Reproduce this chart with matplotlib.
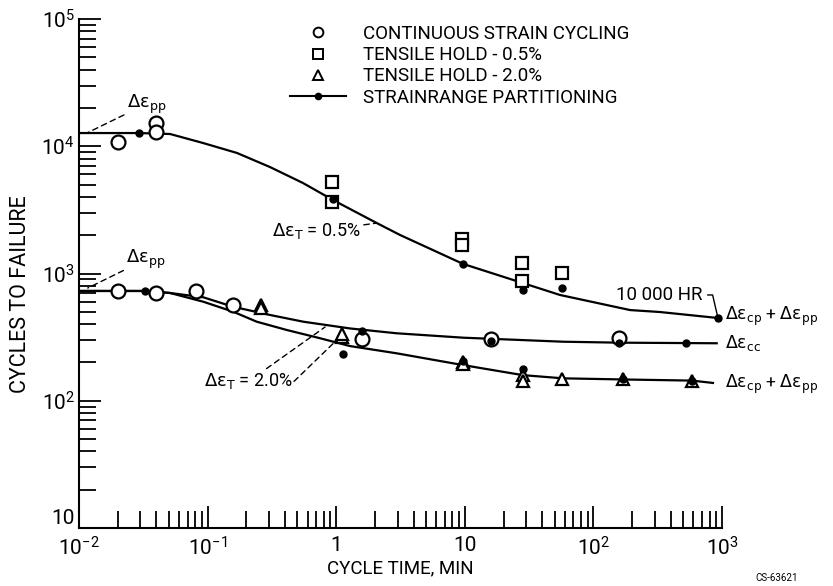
import numpy as np
import matplotlib.pyplot as plt
from matplotlib.lines import Line2D
from matplotlib.ticker import FixedLocator, NullFormatter

plt.rcParams['font.family'] = ['Roboto', 'DejaVu Sans']
plt.rcParams['mathtext.fontset'] = 'custom'
plt.rcParams['mathtext.rm'] = 'Roboto'
plt.rcParams['mathtext.it'] = 'Roboto'
plt.rcParams['mathtext.sf'] = 'Roboto'
plt.rcParams['mathtext.fallback'] = 'stixsans'

# strainrange partitioning curves (cycle time, min / cycles to failure)
top_t = [0.01, 0.0293, 0.0511, 0.092, 0.169, 0.305, 0.552, 0.944, 2.07, 3.13, 9.68, 21.3, 55, 193, 330, 930]
top_n = [12700, 12700, 12480, 10610, 8860, 6870, 5140, 3780, 2490, 2010, 1190, 922, 678, 516, 498, 447]

mid_t = [0.01, 0.0326, 0.051, 0.0926, 0.158, 0.306, 0.555, 1.28, 2.95, 9.73, 58.3, 161, 910]
mid_n = [729, 729, 703, 650, 548, 472, 418, 370, 339, 313, 291, 286, 283]

low_t = [0.01, 0.0326, 0.051, 0.0926, 0.158, 0.241, 0.412, 0.748, 1.28, 2.95, 9.6, 28.2, 58.3, 169, 585, 851]
low_n = [729, 729, 703, 600, 501, 418, 360, 310, 269, 236, 191, 159, 150, 147, 144, 138]

# strainrange partitioning predicted points
srp_t = [0.0293, 0.944, 9.68, 28.2, 57, 930, 0.0326, 1.6, 15.9, 158, 525, 1.12, 9.6, 28.2, 169, 587]
srp_n = [12700, 3850, 1190, 741, 769, 447, 729, 355, 297, 286, 286, 232, 205, 177, 147, 144]

# experiments
circ_t = [0.020, 0.0397, 0.0397, 0.0202, 0.0397, 0.0807, 0.158, 1.60, 15.9, 158]
circ_n = [10800, 15200, 12900, 733, 703, 728, 565, 305, 305, 310]

sq_t = [0.927, 0.927, 9.5, 9.5, 27.9, 27.9, 57]
sq_n = [5240, 3650, 1870, 1675, 1210, 874, 1010]

tri_t = [0.259, 0.259, 1.10, 1.10, 9.6, 9.6, 28.2, 28.2, 57.3, 169, 587]
tri_n = [565, 536, 318, 336, 203, 193, 159, 143, 147, 147, 144]

x_ticks = [1e-2, 1e-1, 1, 10, 1e2, 1e3]
x_labels = [r'$10^{-2}$', r'$10^{-1}$', '1', '10', r'$10^{2}$', r'$10^{3}$']
y_ticks = [10, 1e2, 1e3, 1e4, 1e5]
y_labels = ['10', r'$10^{2}$', r'$10^{3}$', r'$10^{4}$', r'$10^{5}$']

fig = plt.figure(figsize=(8.33, 5.86), dpi=100)
ax = fig.add_axes([79/833, 58/586, 643/833, 509/586])
ax.set_xscale('log')
ax.set_yscale('log')
ax.set_xlim(0.01, 1000)
ax.set_ylim(10, 1e5)

lw = 1.6
ax.plot(top_t, top_n, color='black', lw=lw)
ax.plot(mid_t, mid_n, color='black', lw=lw)
ax.plot(low_t, low_n, color='black', lw=lw)
ax.plot(srp_t, srp_n, ls='none', marker='o', ms=5, color='black', zorder=4)
ax.plot(circ_t, circ_n, ls='none', marker='o', ms=10, mfc='white', mec='black', mew=1.6, zorder=3)
ax.plot(sq_t, sq_n, ls='none', marker='s', ms=8, mfc='white', mec='black', mew=1.6, zorder=3)
ax.plot(tri_t, tri_n, ls='none', marker='^', ms=9, mfc='white', mec='black', mew=1.6, zorder=3)

for s in ['top', 'right']:
    ax.spines[s].set_visible(False)
for s in ['left', 'bottom']:
    ax.spines[s].set_linewidth(1.5)

minor_x = [m * 10.0**e for e in range(-2, 3) for m in range(2, 10)]
minor_y = [m * 10.0**e for e in range(1, 5) for m in range(2, 10)]
ax.xaxis.set_major_locator(FixedLocator(x_ticks))
ax.xaxis.set_minor_locator(FixedLocator(minor_x))
ax.yaxis.set_major_locator(FixedLocator(y_ticks))
ax.yaxis.set_minor_locator(FixedLocator(minor_y))
ax.set_xticklabels(x_labels)
ax.set_yticklabels(y_labels)
ax.xaxis.set_minor_formatter(NullFormatter())
ax.yaxis.set_minor_formatter(NullFormatter())
ax.tick_params(which='major', direction='in', length=16, width=1.3, labelsize=15)
ax.tick_params(which='minor', direction='in', length=12, width=1.3)
ax.tick_params(axis='x', which='major', pad=6)
ax.tick_params(axis='y', which='major', pad=3)
# bottom "10" sits just above the corner, as in the original
ax.get_yticklabels()[0].set_va('bottom')

ax.set_xlabel('CYCLE TIME, MIN', fontsize=13.5, labelpad=0)
ax.set_ylabel('CYCLES TO FAILURE', fontsize=15.5)
ax.yaxis.set_label_coords(-0.074, 0.46)

handles = [
    Line2D([], [], ls='none', marker='o', ms=7, mfc='white', mec='black', mew=1.4),
    Line2D([], [], ls='none', marker='s', ms=7, mfc='white', mec='black', mew=1.4),
    Line2D([], [], ls='none', marker='^', ms=7, mfc='white', mec='black', mew=1.4),
    Line2D([], [], color='black', lw=1.5, marker='o', ms=4.5),
]
labels = ['CONTINUOUS STRAIN CYCLING', 'TENSILE HOLD - 0.5%',
          'TENSILE HOLD - 2.0%', 'STRAINRANGE PARTITIONING']
ax.legend(handles, labels, loc='upper left', bbox_to_anchor=(290/833, 1 - 25/586),
          bbox_transform=fig.transFigure, frameon=False, fontsize=13.5,
          handlelength=3.0, handletextpad=0.9, labelspacing=0.17, borderpad=0,
          borderaxespad=0, numpoints=1)

dash = dict(arrowstyle='-', linestyle=(0, (4, 3)), lw=1.0, color='black', shrinkA=0, shrinkB=0)
fs = 13
mf = 'dejavusans'
de = r'\Delta\mathrm{\epsilon}'
ax.annotate('$' + de + r'_{\mathrm{pp}}$', xy=(0.0115, 12700), xytext=(0.0235, 21500),
            fontsize=fs, va='center', ha='left', arrowprops=dash, math_fontfamily=mf)
ax.annotate('$' + de + r'_{\mathrm{pp}}$', xy=(0.0117, 769), xytext=(0.0233, 1290),
            fontsize=fs, va='center', ha='left', arrowprops=dash, math_fontfamily=mf)
ax.annotate('$' + de + r'_{\mathrm{T}}$ = 0.5%', xy=(2.07, 2490), xytext=(1.56, 2150),
            fontsize=fs, va='center', ha='right', arrowprops=dash, math_fontfamily=mf)
ax.annotate('$' + de + r'_{\mathrm{T}}$ = 2.0%', xy=(0.82, 380), xytext=(0.46, 142),
            fontsize=fs, va='center', ha='right', arrowprops=dash, math_fontfamily=mf)
ax.annotate('', xy=(1.01, 300), xytext=(0.47, 142), arrowprops=dash)
ax.annotate('10 000 HR', xy=(top_t[-1], top_n[-1]), xytext=(700, 678),
            fontsize=13.5, va='center', ha='right',
            arrowprops=dict(arrowstyle='-', lw=1.0, color='black', shrinkA=2, shrinkB=0,
                            connectionstyle='angle,angleA=0,angleB=103,rad=0'))

rx = 1060
rfs = 12.5
cp_pp = '$' + de + r'_{\mathrm{cp}}$ + $' + de + r'_{\mathrm{pp}}$'
ax.text(rx, 431, cp_pp, fontsize=rfs, va='baseline', ha='left', clip_on=False, math_fontfamily=mf)
ax.text(rx, 260, '$' + de + r'_{\mathrm{cc}}$', fontsize=rfs,
        va='baseline', ha='left', clip_on=False, math_fontfamily=mf)
ax.text(rx, 126, cp_pp, fontsize=rfs, va='baseline', ha='left', clip_on=False, math_fontfamily=mf)

fig.text(755/833, 1 - 578/586, 'CS-63621', fontsize=7, ha='left', va='center')

fig.savefig('out.png', dpi=100)
